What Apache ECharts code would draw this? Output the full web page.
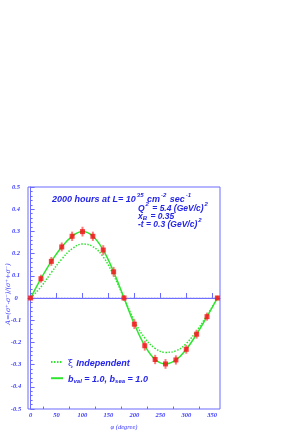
<!DOCTYPE html>
<html>
<head>
<meta charset="utf-8">
<script src="https://cdn.jsdelivr.net/npm/echarts@6/dist/echarts.min.js"></script>
<style>
html,body{margin:0;padding:0;background:#fff;}
#main{width:298px;height:440px;}
</style>
</head>
<body>
<div id="main"></div>
<script>
// ---- data ----
const phi = [0, 20, 40, 60, 80, 100, 120, 140, 160, 180, 200, 220, 240, 260, 280, 300, 320, 340, 360];
const asym = [0, 0.087, 0.165, 0.230, 0.278, 0.299, 0.278, 0.216, 0.118, 0, -0.118, -0.215, -0.277, -0.297, -0.279, -0.231, -0.163, -0.084, 0];
const asymErr = [0.01, 0.018, 0.02, 0.02, 0.021, 0.022, 0.021, 0.022, 0.022, 0.012, 0.022, 0.022, 0.021, 0.022, 0.021, 0.02, 0.02, 0.018, 0.01];
const xiIndep = [0, 0.050, 0.115, 0.175, 0.222, 0.243, 0.232, 0.185, 0.102, 0, -0.103, -0.180, -0.227, -0.245, -0.238, -0.205, -0.148, -0.078, 0];
const xMajorTicks = [0, 50, 100, 150, 200, 250, 300, 350];
const xMinorTicks = [25, 75, 125, 175, 225, 275, 325];
const zeroLineX = [0, 360];

const AX = '#6a6aff';
const LAB = '#3a3aff';
const TXT = '#2424e8';
const GREEN = '#2fe62f';

const chart = echarts.init(document.getElementById('main'), null, {renderer: 'canvas'});

function richStyle(size) {
  const base = {fontFamily: 'Liberation Sans', fontWeight: 'bold', fontStyle: 'italic', fill: TXT, color: TXT};
  return {
    n: Object.assign({}, base, {fontSize: size, lineHeight: 12, verticalAlign: 'bottom'}),
    p: Object.assign({}, base, {fontSize: 6, lineHeight: 6, verticalAlign: 'top', padding: [0, 1, 0, 1]}),
    b: Object.assign({}, base, {fontSize: 6, lineHeight: 6, verticalAlign: 'bottom', padding: [0, 1, 0, 0]})
  };
}
function rtext(x, y, text, size) {
  return {
    type: 'text', x: x, y: y, z: 100,
    style: {text: text, fill: TXT, verticalAlign: 'middle', align: 'left', rich: richStyle(size)}
  };
}

const labelFont = {fontFamily: 'Liberation Serif', fontStyle: 'italic', fontWeight: 'bold', fontSize: 6.5, color: LAB};

const option = {
  animation: false,
  backgroundColor: '#fff',
  grid: {left: 28, right: 78, top: 187, bottom: 31, show: true, borderColor: AX, borderWidth: 1,
    containLabel: false, outerBoundsMode: 'none'},
  xAxis: [{
    type: 'value', min: -5, max: 365,
    axisLine: {show: true, lineStyle: {color: AX, width: 1}},
    splitLine: {show: false},
    axisTick: {show: true, inside: true, length: 5, customValues: xMajorTicks, lineStyle: {color: AX, width: 1}},
    axisLabel: {show: true, customValues: xMajorTicks, margin: 3, ...labelFont},
    name: 'φ (degree)', nameLocation: 'middle', nameGap: 12,
    nameTextStyle: {fontFamily: 'Liberation Serif', fontStyle: 'italic', fontSize: 6.5, color: LAB}
  }, {
    type: 'value', min: -5, max: 365, position: 'bottom',
    axisLine: {show: false}, splitLine: {show: false}, axisLabel: {show: false},
    axisTick: {show: true, inside: true, length: 2.5, customValues: xMinorTicks, lineStyle: {color: AX, width: 1}}
  }],
  yAxis: {
    type: 'value', min: -0.5, max: 0.5, interval: 0.1,
    axisLine: {show: true, lineStyle: {color: AX, width: 1}},
    splitLine: {show: false},
    axisTick: {show: true, inside: true, length: 4, lineStyle: {color: AX, width: 1}},
    minorTick: {show: true, splitNumber: 5, length: 2, lineStyle: {color: AX, width: 1}},
    axisLabel: {show: true, margin: 12, align: 'center', ...labelFont,
      formatter: v => (Math.abs(v) < 1e-9 ? '0' : (Math.round(v * 10) / 10).toString())}
  },
  legend: {
    data: ['xi', 'bval'], orient: 'vertical', left: 50, top: 356,
    itemWidth: 12, itemHeight: 8, itemGap: 7, padding: 0,
    selectedMode: false,
    itemStyle: {opacity: 0},
    formatter: n => n === 'xi' ? '{g|ξ} {n|Independent}' : '{n|b}{s|val}{n| = 1.0, b}{s|sea}{n| = 1.0}',
    textStyle: {
      color: TXT,
      rich: {
        g: {fontFamily: 'DejaVu Serif', fontSize: 9, color: TXT, lineHeight: 12, verticalAlign: 'bottom'},
        n: {fontFamily: 'Liberation Sans', fontWeight: 'bold', fontStyle: 'italic', fontSize: 9, color: TXT, lineHeight: 12, verticalAlign: 'bottom'},
        s: {fontFamily: 'Liberation Sans', fontWeight: 'bold', fontStyle: 'italic', fontSize: 6, color: TXT, lineHeight: 6, verticalAlign: 'bottom'}
      }
    }
  },
  series: [
    {
      name: 'zero', type: 'line', xAxisIndex: 0, data: zeroLineX.map(x => [x, 0]),
      showSymbol: false, symbol: 'none', silent: true,
      lineStyle: {color: '#8080ff', width: 0.8, type: [2, 1]}, z: 1
    },
    {
      name: 'xi', type: 'line', xAxisIndex: 0, data: phi.map((x, i) => [x, xiIndep[i]]),
      smooth: 0.4, showSymbol: false, symbol: 'none',
      lineStyle: {color: GREEN, width: 1.5, type: [1.5, 1.5]}, itemStyle: {color: GREEN}, z: 2
    },
    {
      name: 'bval', type: 'line', xAxisIndex: 0, data: phi.map((x, i) => [x, asym[i]]),
      smooth: 0.4, showSymbol: false, symbol: 'none',
      lineStyle: {color: GREEN, width: 1.5}, itemStyle: {color: GREEN}, z: 3
    },
    {
      name: 'err', type: 'custom', xAxisIndex: 0,
      data: phi.map((x, i) => [x, asym[i] - asymErr[i], asym[i] + asymErr[i]]),
      renderItem: function (params, api) {
        const lo = api.coord([api.value(0), api.value(1)]);
        const hi = api.coord([api.value(0), api.value(2)]);
        return {type: 'line', shape: {x1: lo[0], y1: lo[1], x2: hi[0], y2: hi[1]},
          style: {stroke: '#ff7a7a', lineWidth: 2}};
      }, z: 4
    },
    {
      name: 'pts', type: 'scatter', xAxisIndex: 0, data: phi.map((x, i) => [x, asym[i]]),
      symbol: 'rect', symbolSize: 5, itemStyle: {color: '#ee1111'}, z: 5
    }
  ],
  graphic: [
    rtext(52, 198, '{n|2000 hours at L= 10}{p|35}{n| cm}{p|-2}{n| sec}{p|-1}', 9),
    rtext(138, 207, '{n|Q}{p|2}{n| = 5.4 (GeV/c)}{p|2}', 8.5),
    rtext(138, 215, '{n|x}{b|B}{n| = 0.35}', 8.5),
    rtext(138, 223, '{n|-t = 0.3 (GeV/c)}{p|2}', 8.5),
    {
      type: 'text', x: 8, y: 294, rotation: Math.PI / 2, z: 100,
      style: {text: 'A=(σ⁺-σ⁻)/(σ⁺+σ⁻)', align: 'center', verticalAlign: 'middle', fill: LAB,
        font: 'italic 6.5px "DejaVu Serif"'}
    }
  ]
};
chart.setOption(option);
</script>
</body>
</html>
